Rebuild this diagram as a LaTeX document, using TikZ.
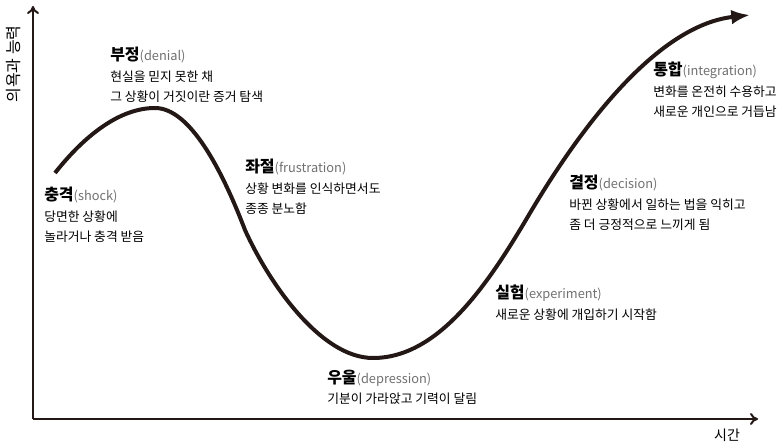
\documentclass[tikz,border=0pt]{standalone}
\usepackage{fontspec}
\setmainfont{Noto Sans CJK KR}
\usepackage{tikz}
\usetikzlibrary{arrows.meta,positioning}
\definecolor{curvebrown}{HTML}{231815}
\definecolor{engray}{HTML}{707070}
\newcommand{\stagetitle}[2]{{\fontsize{12}{15.2}\selectfont\bfseries #1}{\color{engray}(#2)}}

\begin{document}
\begin{tikzpicture}[x=0.75pt,y=-0.75pt,
    stage/.style={anchor=north west,inner sep=0pt,align=left,
        font=\fontsize{9.6}{15.2}\selectfont},
    axis/.style={line width=1.5pt,color=curvebrown},
    lifeline/.style={line width=3pt,color=curvebrown,-{Latex[length=14pt,width=11pt]}}]
        \useasboundingbox (0,0) rectangle (784,448);
        % axes
        \coordinate (origin) at (33,419);
        \coordinate (ytop) at (33,6);
        \coordinate (xend) at (758,419);
        \draw[axis,-{To[length=6pt,width=9pt]}] (origin) -- (ytop);
        \draw[axis,-{To[length=6pt,width=9pt]}] (origin) -- (xend);
        \node[rotate=90,font=\fontsize{12}{14}\selectfont] (ylabel) at (14,64) {의욕과 능력};
        \node[font=\fontsize{10.5}{12}\selectfont] (timelabel) at (727,435) {시간};
        % change curve
        \coordinate (start) at (55,173);
        \coordinate (peak) at (155,108);
        \coordinate (fall) at (245,230);
        \coordinate (low) at (373,358);
        \coordinate (rise) at (530,213);
        \coordinate (tip) at (750,15);
        \draw[lifeline] (start) .. controls (85,135) and (120,108) .. (peak)
            .. controls (190,108) and (222,170) .. (fall)
            .. controls (268,281) and (320,358) .. (low)
            .. controls (440,358) and (490,281) .. (rise)
            .. controls (585,120) and (660,25) .. (tip);
        % stages
        \node[stage] (denial) at (110,47)
            {\stagetitle{부정}{denial}\\현실을 믿지 못한 채\\그 상황이 거짓이란 증거 탐색};
        \node[stage] (shock) at (44,187)
            {\stagetitle{충격}{shock}\\당면한 상황에\\놀라거나 충격 받음};
        \node[stage] (frustration) at (245,159)
            {\stagetitle{좌절}{frustration}\\상황 변화를 인식하면서도\\종종 분노함};
        \node[stage] (depression) at (327,370)
            {\stagetitle{우울}{depression}\\기분이 가라앉고 기력이 달림};
        \node[stage] (experiment) at (495,285)
            {\stagetitle{실험}{experiment}\\새로운 상황에 개입하기 시작함};
        \node[stage] (decision) at (569,175)
            {\stagetitle{결정}{decision}\\바뀐 상황에서 일하는 법을 익히고\\좀 더 긍정적으로 느끼게 됨};
        \node[stage] (integration) at (653,62)
            {\stagetitle{통합}{integration}\\변화를 온전히 수용하고\\새로운 개인으로 거듭남};
\end{tikzpicture}
\end{document}
